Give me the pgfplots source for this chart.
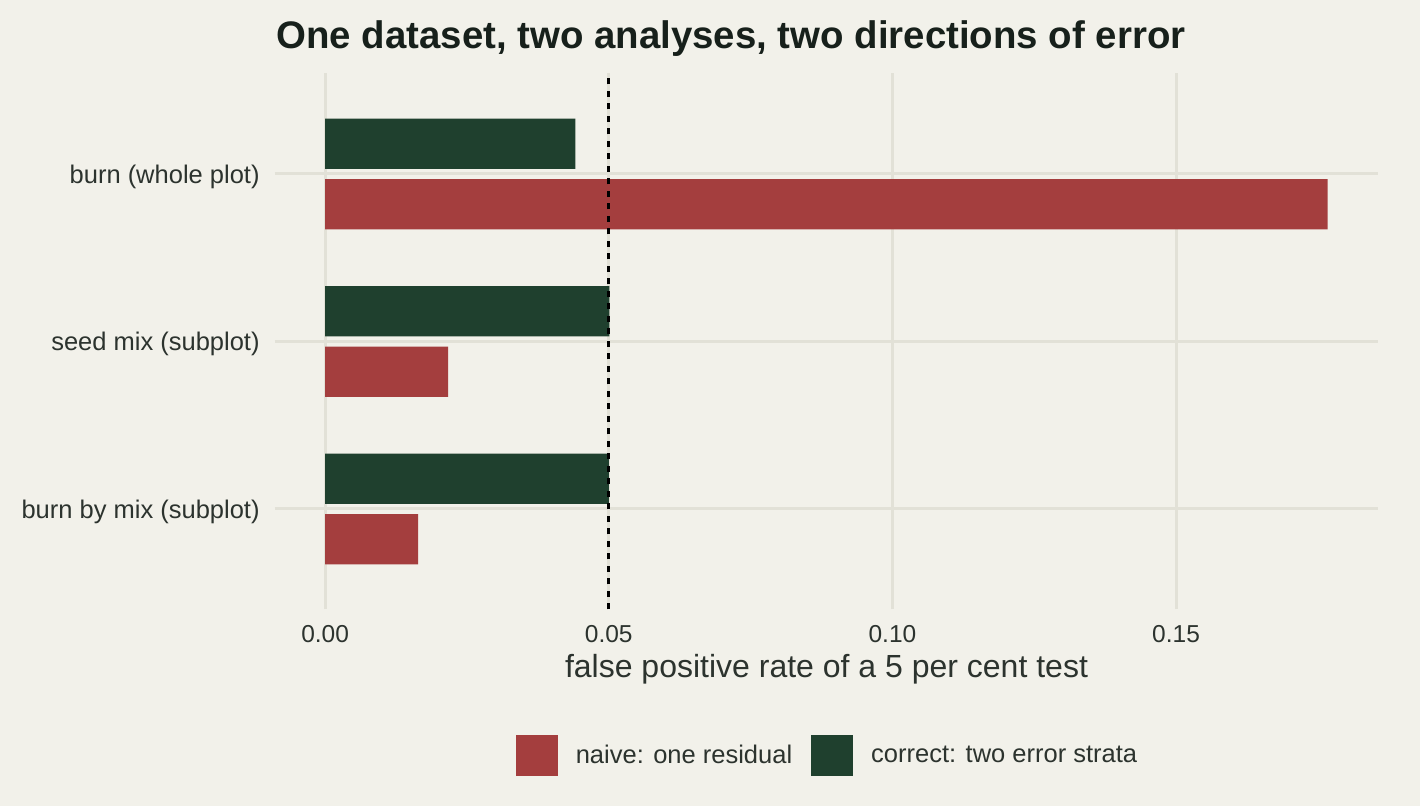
\documentclass[border=0pt]{standalone}
\usepackage{pgfplots}
\pgfplotsset{compat=1.18}
\usepackage{fontspec}
\setmainfont{Liberation Sans}

\definecolor{bgcol}{HTML}{F2F1EA}
\definecolor{gridcol}{HTML}{E2E1D7}
\definecolor{naivecol}{HTML}{A43E3E}
\definecolor{correctcol}{HTML}{1F402E}
\definecolor{titlecol}{HTML}{17201B}
\definecolor{labcol}{HTML}{2C332E}

\begin{document}
\begin{tikzpicture}
% page: 1420x806 px at 0.5pt per px, origin at the panel's lower left corner
\path[use as bounding box, fill=bgcol] (-137.5pt,-98.25pt) rectangle (572.5pt,304.75pt);
\begin{axis}[
  at={(0pt,0pt)}, anchor=south west,
  scale only axis, width=551.5pt, height=268pt,
  xmin=-0.00884, xmax=0.1856, ymin=0.4, ymax=3.6,
  bar width=0.3,
  xtick={0,0.05,0.1,0.15}, xticklabels={0.00,0.05,0.10,0.15},
  ytick={1,2,3},
  yticklabels={burn by mix (subplot),seed mix (subplot),burn (whole plot)},
  grid=major, grid style={gridcol, line width=1.5pt},
  axis line style={draw=none}, major tick length=0pt,
  xticklabel style={font=\fontsize{12.25}{14}\selectfont, text=labcol,
    anchor=base, inner sep=0pt, yshift=-16.75pt},
  yticklabel style={font=\fontsize{12.75}{15}\selectfont, text=labcol,
    anchor=base east, inner sep=0pt, xshift=-7.5pt, yshift=-4.6pt},
  legend columns=2,
  legend style={at={(0.5,0)}, anchor=center, yshift=-73.25pt,
    draw=none, fill=none, font=\fontsize{12.75}{15}\selectfont, text=labcol,
    nodes={inner sep=0pt},
    /tikz/every odd column/.append style={column sep=9pt},
    /tikz/every even column/.append style={column sep=9.5pt}},
  legend image code/.code={\fill[#1] (0pt,-10.25pt) rectangle (21pt,10.25pt);},
]
\addplot[xbar, bar shift=-0.18, fill=naivecol, draw=none] coordinates {
  (0.1767,3) (0.0217,2) (0.0164,1)
};
\addlegendentry{naive: one residual}
\addplot[xbar, bar shift=0.18, fill=correctcol, draw=none] coordinates {
  (0.0441,3) (0.0501,2) (0.0500,1)
};
\addlegendentry{correct: two error strata}
\addplot[sharp plot, black, line width=1.3pt, dash pattern=on 3.15pt off 3.1pt, forget plot]
  coordinates {(0.05,0.4) (0.05,3.6)};
\end{axis}
\node[anchor=base west, inner sep=0pt, text=titlecol,
  font=\bfseries\fontsize{19.2}{22}\selectfont] at (0.5pt,280.4pt)
  {One dataset, two analyses, two directions of error};
\node[anchor=base, inner sep=0pt, text=labcol,
  font=\fontsize{16}{19}\selectfont] at (275.75pt,-34.25pt)
  {false positive rate of a 5 per cent test};
\end{tikzpicture}
\end{document}
